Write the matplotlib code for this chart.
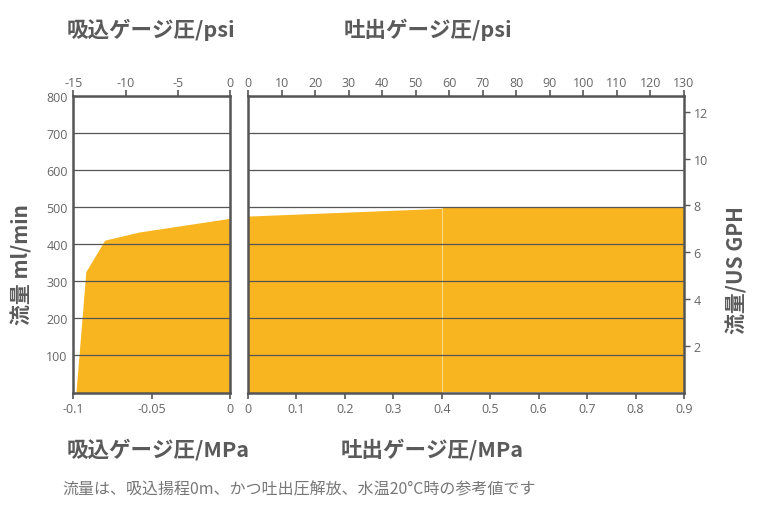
import matplotlib
matplotlib.use("Agg")
import matplotlib.pyplot as plt
from matplotlib.ticker import FixedLocator

plt.rcParams['font.family'] = ['Noto Sans CJK JP', 'DejaVu Sans']
plt.rcParams['axes.unicode_minus'] = False

# Suction side (MPa, ml/min)
suction_mpa = [-0.0983, -0.092, -0.080, -0.058, 0.0]
suction_flow = [0, 326, 411, 433, 470]

# Discharge side (MPa, ml/min)
discharge_mpa = [0.0, 0.4, 0.9]
discharge_flow = [476, 497, 497]

suction_mpa_ticks = [-0.1, -0.05, 0]
suction_mpa_labels = ["-0.1", "-0.05", "0"]
suction_psi_ticks = [-15, -10, -5, 0]
discharge_mpa_ticks = [0, 0.1, 0.2, 0.3, 0.4, 0.5, 0.6, 0.7, 0.8, 0.9]
discharge_psi_ticks = list(range(0, 131, 10))
flow_ticks = [100, 200, 300, 400, 500, 600, 700, 800]
gph_ticks = [2, 4, 6, 8, 10, 12]

FILL = "#F9B520"
SPINE = "#555555"
GRID = "#555555"
TICKC = "#666666"
TITLEC = "#5a5a5a"
TICKFONT = dict(family=["Open Sans", "DejaVu Sans"], size=9)

W, H = 759, 506
fig = plt.figure(figsize=(W / 100, H / 100), dpi=100)

def fx(px):
    return px / W

def fy(py):
    return 1 - py / H

def tick_font(ax, axis):
    labels = ax.get_xticklabels() if axis == "x" else ax.get_yticklabels()
    for lb in labels:
        lb.set_fontfamily(TICKFONT["family"])
        lb.set_fontsize(TICKFONT["size"])
        lb.set_color(TICKC)

top_px, bot_px = 97, 393.5
axL = fig.add_axes([fx(73.3), fy(bot_px), fx(230 - 73.3), (bot_px - top_px) / H])
axR = fig.add_axes([fx(248), fy(bot_px), fx(684 - 248), (bot_px - top_px) / H])

def style(ax):
    ax.set_ylim(0, 800)
    for s in ax.spines.values():
        s.set_color(SPINE)
        s.set_linewidth(1.8)
    ax.grid(axis="y", color=GRID, linewidth=0.9, zorder=3)
    ax.set_axisbelow(False)
    ax.tick_params(axis="x", colors=SPINE, length=4, width=1.2, pad=3)
    ax.tick_params(axis="y", length=0, pad=4)

# Left panel: suction
style(axL)
axL.set_xlim(-0.1, 0)
axL.fill_between(suction_mpa, 0, suction_flow, color=FILL, linewidth=0, zorder=2)
axL.set_xticks(suction_mpa_ticks)
axL.set_xticklabels(suction_mpa_labels)
axL.set_yticks(flow_ticks)
axL.set_yticklabels([str(v) for v in flow_ticks])
tick_font(axL, "x")
tick_font(axL, "y")
topL = axL.twiny()
topL.set_xlim(-15, 0)
topL.set_xticks(suction_psi_ticks)
topL.set_xticklabels([str(v) for v in suction_psi_ticks])
topL.tick_params(axis="x", colors=SPINE, length=4, width=1.2, pad=1)
tick_font(topL, "x")
for s in topL.spines.values():
    s.set_visible(False)

# Right panel: discharge
style(axR)
axR.set_xlim(0, 0.9)
axR.fill_between(discharge_mpa[:2], 0, discharge_flow[:2], color=FILL,
                 linewidth=0, zorder=2)
axR.fill_between(discharge_mpa[1:], 0, discharge_flow[1:], color=FILL,
                 linewidth=0, zorder=2)
axR.axvline(discharge_mpa[1], ymax=discharge_flow[1] / 800, color="#FCD98A",
            linewidth=0.8, zorder=2.5)
axR.set_xticks(discharge_mpa_ticks)
axR.set_xticklabels(["0"] + [f"{v:.1f}" for v in discharge_mpa_ticks[1:]])
tick_font(axR, "x")
axR.set_yticks(flow_ticks)
axR.set_yticklabels([])
topR = axR.twiny()
topR.set_xlim(0, 130)
topR.set_xticks(discharge_psi_ticks)
topR.set_xticklabels([str(v) for v in discharge_psi_ticks])
topR.tick_params(axis="x", colors=SPINE, length=4, width=1.2, pad=1)
tick_font(topR, "x")
for s in topR.spines.values():
    s.set_visible(False)

gph = axR.twinx()
gph.set_ylim(0, 800 * 60 / 3785.41)
gph.set_yticks(gph_ticks)
gph.set_yticklabels([str(v) for v in gph_ticks])
gph.tick_params(axis="y", colors=SPINE, length=4, width=1.0, pad=3)
tick_font(gph, "y")
for s in gph.spines.values():
    s.set_visible(False)

# Titles and labels
bold = dict(fontsize=15.5, fontweight="bold", color=TITLEC)
fig.text(fx(67), fy(30), "吸込ゲージ圧/psi", ha="left", va="center", **bold)
fig.text(fx(344), fy(30), "吐出ゲージ圧/psi", ha="left", va="center", **bold)
fig.text(fx(67), fy(450), "吸込ゲージ圧/MPa", ha="left", va="center", **bold)
fig.text(fx(341), fy(450), "吐出ゲージ圧/MPa", ha="left", va="center", **bold)
fig.text(fx(22), fy(265), "流量 ml/min", rotation=90, ha="center", va="center",
         fontsize=15, fontweight="bold", color=TITLEC)
fig.text(fx(737), fy(270), "流量/US GPH", rotation=90, ha="center", va="center",
         fontsize=15, fontweight="bold", color=TITLEC)
fig.text(fx(62), fy(490), "流量は、吸込揚程0m、かつ吐出圧解放、水温20°C時の参考値です",
         ha="left", va="center", fontsize=11.5, style="italic", color="#777777")

fig.savefig("out.png", dpi=100)
